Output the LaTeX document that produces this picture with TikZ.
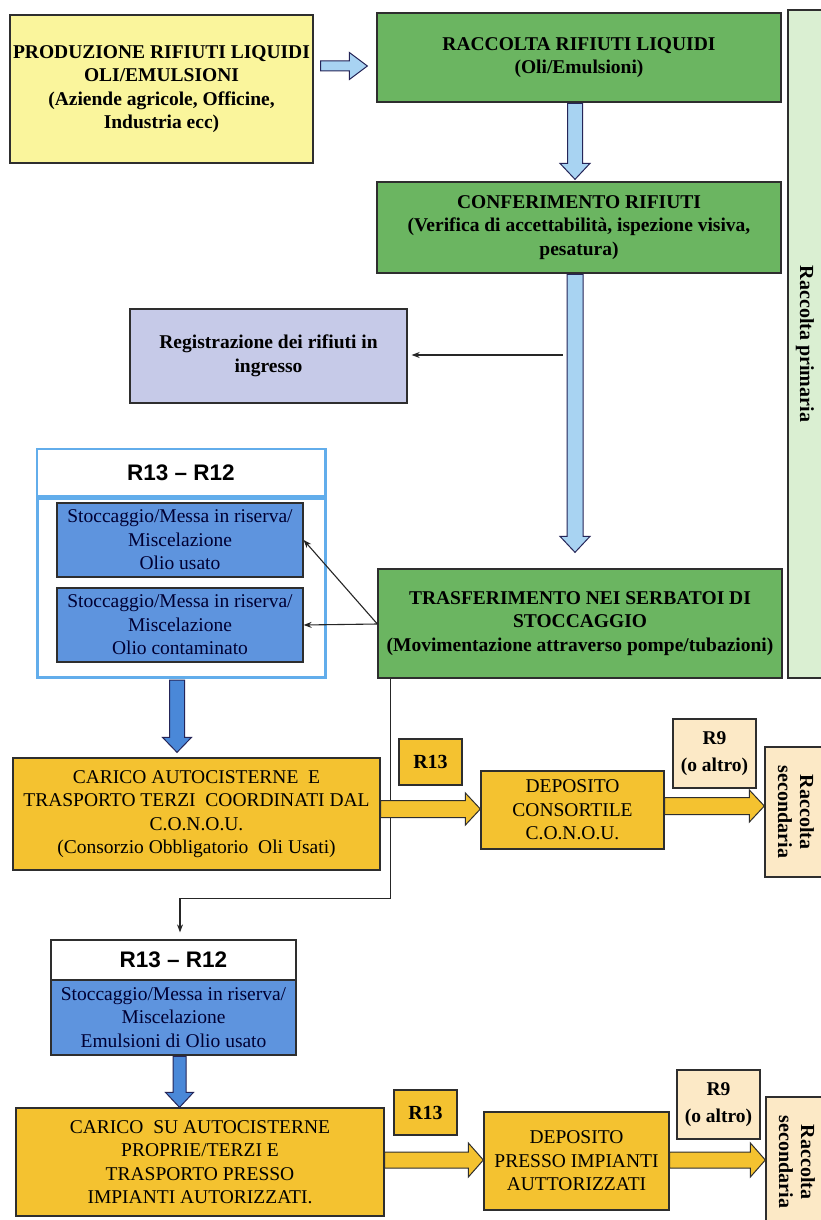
\documentclass[tikz,border=0pt]{standalone}
\usepackage{fontspec}
\setmainfont{Liberation Serif}
\setsansfont{Liberation Sans}
\usetikzlibrary{arrows.meta,calc}
\definecolor{ylw}{HTML}{FAF59C}
\definecolor{grn}{HTML}{6BB561}
\definecolor{strp}{HTML}{DAEFD2}
\definecolor{lav}{HTML}{C6CAE8}
\definecolor{bbox}{HTML}{5E94DE}
\definecolor{frm}{HTML}{62ADEB}
\definecolor{gold}{HTML}{F4C230}
\definecolor{peach}{HTML}{FCE9C6}
\definecolor{lblue}{HTML}{A8D3F2}
\definecolor{dblue}{HTML}{4A88D8}
\definecolor{edge}{HTML}{2E2E2E}
\newcommand\fs{\fontsize{19.5}{23.5}\selectfont}
\newcommand\vblk[6]{\draw[#1] let \p1=(#2), \p2=(#3) in
 (\x1-#4pt,\y1) -- (\x1-#4pt,\y2+#6pt) -- (\x1-#5pt,\y2+#6pt) -- (\x1,\y2) -- (\x1+#5pt,\y2+#6pt) -- (\x1+#4pt,\y2+#6pt) -- (\x1+#4pt,\y1) -- cycle;}
\newcommand\hblk[6]{\draw[#1] let \p1=(#2), \p2=(#3) in
 (\x1,\y1+#4pt) -- (\x2-#6pt,\y1+#4pt) -- (\x2-#6pt,\y1+#5pt) -- (\x2,\y1) -- (\x2-#6pt,\y1-#5pt) -- (\x2-#6pt,\y1-#4pt) -- (\x1,\y1-#4pt) -- cycle;}
\begin{document}
\begin{tikzpicture}[x=1pt,y=-1pt,
  box/.style={draw=edge, line width=1.3pt, inner sep=2pt, align=center, text=black, font=\fs},
  bbx/.style={box, font=\bfseries\fs},
  sz/.style 2 args={minimum width=#1pt, minimum height=#2pt},
  lbarrow/.style={fill=lblue, draw=edge!80!blue, line width=1pt},
  dbarrow/.style={fill=dblue, draw=edge!80!blue, line width=1pt},
  goarrow/.style={fill=gold, draw=edge, line width=1pt},
  thinarr/.style={draw=black!85, line width=1.1pt, -{Stealth[length=8pt,width=6pt]}},
  rot/.style={rotate=-90, align=center, font=\bfseries\fontsize{20}{22}\selectfont}
]
\useasboundingbox (0,0) rectangle (821,1220);
\fill[white] (0,0) rectangle (821,1220);

% top section
\node[bbx, fill=ylw, sz={303}{148}] (prod) at (161.5,89) {PRODUZIONE RIFIUTI LIQUIDI\\OLI/EMULSIONI\\(Aziende agricole, Officine,\\Industria ecc)};
\node[bbx, fill=grn, sz={404}{89}] (rac) at (579,57.5) {RACCOLTA RIFIUTI LIQUIDI\\(Oli/Emulsioni)};
\node[bbx, fill=grn, sz={404}{91}] (conf) at (579,227.5) {CONFERIMENTO RIFIUTI\\(Verifica di accettabilità, ispezione visiva,\\pesatura)};
\node[box, fill=strp, sz={47}{668}] (strip) at (811.5,344) {};
\node[rot] (stript) at (805,344) {Raccolta primaria};
\node[bbx, fill=lav, sz={277}{94}] (reg) at (268.5,356) {Registrazione dei rifiuti in\\ingresso};

% R13-R12 frame
\node[draw=frm, line width=3pt, fill=white, sz={288}{228}] (frame) at (181,563) {};
\node[draw=frm, line width=2pt, fill=white, sz={288}{47}, font=\sffamily\bfseries\fontsize{22.5}{26}\selectfont] (hdr1) at (181,472.5) {R13 – R12};
\draw[frm, line width=5pt] (hdr1.south west) -- (hdr1.south east);
\node[box, fill=bbox, sz={246}{74}, text=black!80!blue] (b1) at (180,540) {Stoccaggio/Messa in riserva/\\Miscelazione\\Olio usato};
\node[box, fill=bbox, sz={246}{74}, text=black!80!blue] (b2) at (180,625) {Stoccaggio/Messa in riserva/\\Miscelazione\\Olio contaminato};

\node[bbx, fill=grn, sz={404}{109}] (trasf) at (580,623.5) {TRASFERIMENTO NEI SERBATOI DI\\STOCCAGGIO\\(Movimentazione attraverso pompe/tubazioni)};

% middle row
\node[box, fill=gold, sz={367}{112}] (car1) at (196.5,814) {CARICO AUTOCISTERNE\ \ E\\TRASPORTO TERZI\ \ COORDINATI DAL\\C.O.N.O.U.\\(Consorzio Obbligatorio\ \ Oli Usati)};
\node[bbx, fill=gold, sz={63}{46}, font=\bfseries\fontsize{20}{24}\selectfont] (r13a) at (430.5,762) {R13};
\node[box, fill=gold, sz={183}{78}] (dep1) at (572.5,810) {DEPOSITO\\CONSORTILE\\C.O.N.O.U.};
\node[bbx, fill=peach, sz={83}{69}, font=\bfseries\fontsize{19.5}{27}\selectfont] (r9a) at (714.5,753.5) {R9\\(o altro)};
\node[box, fill=peach, sz={62}{130}] (sec1) at (796,812) {};
\node[rot] (sec1t) at (796,812) {Raccolta\\secondaria};

% bottom section
\node[box, fill=white, sz={245}{40}, font=\sffamily\bfseries\fontsize{22.5}{26}\selectfont] (hdr2) at (173.5,960) {R13 – R12};
\node[box, fill=bbox, sz={245}{75}, text=black!80!blue] (b3) at (173.5,1017.5) {Stoccaggio/Messa in riserva/\\Miscelazione\\Emulsioni di Olio usato};
\node[box, fill=gold, sz={368}{108}] (car2) at (200,1162) {CARICO\ \ SU AUTOCISTERNE\\PROPRIE/TERZI E\\TRASPORTO PRESSO\\IMPIANTI AUTORIZZATI.};
\node[bbx, fill=gold, sz={63}{45}, font=\bfseries\fontsize{20}{24}\selectfont] (r13b) at (425.5,1112.5) {R13};
\node[box, fill=gold, sz={185}{98}] (dep2) at (576.5,1161) {DEPOSITO\\PRESSO IMPIANTI\\AUTTORIZZATI};
\node[bbx, fill=peach, sz={83}{69}, font=\bfseries\fontsize{19.5}{27}\selectfont] (r9b) at (718.5,1104.5) {R9\\(o altro)};
\node[box, fill=peach, sz={62}{130}] (sec2) at (797,1162) {};
\node[rot] (sec2t) at (797,1162) {Raccolta\\secondaria};

% block arrows
\hblk{lbarrow}{$(prod.east)+(7,-23)$}{$(rac.west)+(-9,0)$}{5}{13.5}{18}
\vblk{lbarrow}{$(rac.south)+(-4,0.7)$}{$(conf.north)+(0,-2)$}{7.5}{15}{16}
\vblk{lbarrow}{$(conf.south)+(-4,0.7)$}{$(trasf.north)+(0,-16)$}{8}{15}{16}
\vblk{dbarrow}{$(frame.south)+(-4,1.5)$}{$(car1.north)+(0,-5)$}{7.5}{14.5}{15}
\vblk{dbarrow}{$(b3.south)+(6,0.7)$}{car2.north}{6.5}{14}{15}

% thin connectors
\coordinate (regsrc) at ($(reg.east)+(155,-1)$);
\draw[thinarr, shorten >=4pt] (regsrc) -- (reg.east |- regsrc);
\coordinate (tsrc) at ($(trasf.west)+(0,0.5)$);
\draw[thinarr] (tsrc) -- (b1.east);
\draw[thinarr] (tsrc) -- (b2.east);
\coordinate (t0) at ($(trasf.south west)+(13,0.7)$);
\coordinate (t1) at ($(hdr2.north)+(6.5,-7)$);
\draw[thinarr] (t0) -- ($(t0)+(0,219)$) -| (t1);

% gold arrows
\hblk{goarrow}{$(car1.east)+(0,-5)$}{dep1.west}{8.5}{16}{15}
\hblk{goarrow}{$(dep1.east)+(0,-4)$}{sec1.west}{8.5}{16}{15}
\hblk{goarrow}{$(car2.east)+(0,-2)$}{dep2.west}{8}{17}{15}
\hblk{goarrow}{$(dep2.east)+(0,-1)$}{sec2.west}{8}{17}{15}
\end{tikzpicture}
\end{document}
